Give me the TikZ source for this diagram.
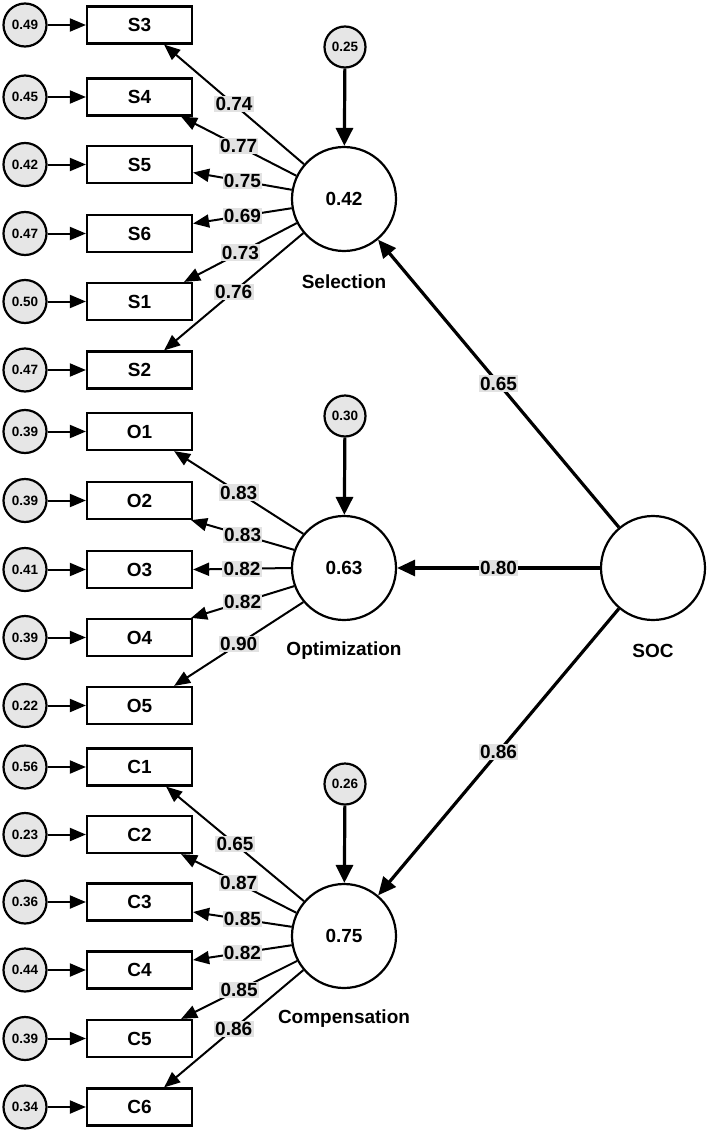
\documentclass[tikz,border=0pt]{standalone}
\usepackage{fontspec}
\setmainfont{Liberation Sans}
\usetikzlibrary{arrows.meta}
\definecolor{errfill}{HTML}{E6E6E6}
\definecolor{lblfill}{HTML}{E2E2E2}

\begin{document}
\begin{tikzpicture}[x=1pt,y=-1pt,
  every node/.style={font=\bfseries\fontsize{19}{21}\selectfont},
  obs/.style={draw, line width=2.2pt, minimum width=105pt, minimum height=37pt, inner sep=0pt},
  err/.style={draw, circle, line width=2.2pt, fill=errfill, minimum size=43pt, inner sep=0pt,
              font=\bfseries\fontsize{13.5}{14}\selectfont},
  lat/.style={draw, circle, line width=2.2pt, minimum size=104pt, inner sep=0pt},
  dist/.style={draw, circle, line width=2.2pt, fill=errfill, minimum size=41pt, inner sep=0pt,
              font=\bfseries\fontsize{13.5}{14}\selectfont},
  title/.style={font=\bfseries\fontsize{19}{21}\selectfont},
  lbl/.style={fill=lblfill, inner sep=1.3pt, pos=0.5},
  errarrow/.style={line width=2pt, -{Triangle[length=16pt,width=13pt]}},
  load/.style={line width=2pt, -{Triangle[length=16pt,width=13pt]}},
  path/.style={line width=3.2pt, -{Triangle[length=18pt,width=16pt]}},
  distarrow/.style={line width=3.2pt, -{Triangle[length=18pt,width=17pt]}}
]
\useasboundingbox (0,0) rectangle (709,1132);

% observed indicators with their error terms
\foreach \n/\y/\e in {S3/25/0.49, S4/97/0.45, S5/164.5/0.42, S6/233.5/0.47, S1/301.5/0.50, S2/370/0.47,
                      O1/431.5/0.39, O2/500.5/0.39, O3/569.5/0.41, O4/637.5/0.39, O5/705.5/0.22,
                      C1/767/0.56, C2/834.5/0.23, C3/902/0.36, C4/970/0.44, C5/1038.5/0.39, C6/1107/0.34}{
  \node[obs] (\n) at (139.5,\y) {\n};
  \node[err] (e\n) at (25,\y) {\e};
  \draw[errarrow] (e\n) -- (\n);
}

% first-order factors
\node[lat] (sel) at (344,199) {0.42};
\node[lat] (opt) at (344,568) {0.63};
\node[lat] (com) at (344,936) {0.75};
\node[title] (selt) at (344,282) {Selection};
\node[title] (optt) at (344,651) {Optimization};
\node[title] (comt) at (344,1019) {Compensation};

% second-order factor
\node[lat] (soc) at (653,568) {};
\node[title] (soct) at (653,651) {SOC};

% disturbances
\node[dist] (dsel) at (345,47) {0.25};
\node[dist] (dopt) at (345,416) {0.30};
\node[dist] (dcom) at (345,784) {0.26};
\draw[distarrow] (dsel) -- (sel);
\draw[distarrow] (dopt) -- (opt);
\draw[distarrow] (dcom) -- (com);

% structural paths
\draw[path] (soc) -- node[lbl]{0.65} (sel);
\draw[path] (soc) -- node[lbl]{0.80} (opt);
\draw[path] (soc) -- node[lbl]{0.86} (com);

% factor loadings
\foreach \f/\a/\b/\anc/\dx/\dy/\v in {
  sel/139/S3/south east/-29/0/0.74,
  sel/154/S4/south east/-12/0/0.77,
  sel/170/S5/east/0/8/0.75,
  sel/190/S6/east/0/-10/0.69,
  sel/207/S1/north east/-9/0/0.73,
  sel/220/S2/north east/-29/0/0.76,
  opt/140/O1/south east/-19/0/0.83,
  opt/160/O2/south east/-2/0/0.83,
  opt/180/O3/east/0/0/0.82,
  opt/200/O4/north east/-2/0/0.82,
  opt/220/O5/north east/-19/0/0.90,
  com/139/C1/south east/-27/0/0.65,
  com/154/C2/south east/-12/0/0.87,
  com/170/C3/east/0/10/0.85,
  com/190/C4/east/0/-10/0.82,
  com/208/C5/north east/-12/0/0.85,
  com/220/C6/north east/-29/0/0.86}{
  \draw[load] (\f.\a) -- node[lbl]{\v} ([shift={(\dx,\dy)}]\b.\anc);
}
\end{tikzpicture}
\end{document}
